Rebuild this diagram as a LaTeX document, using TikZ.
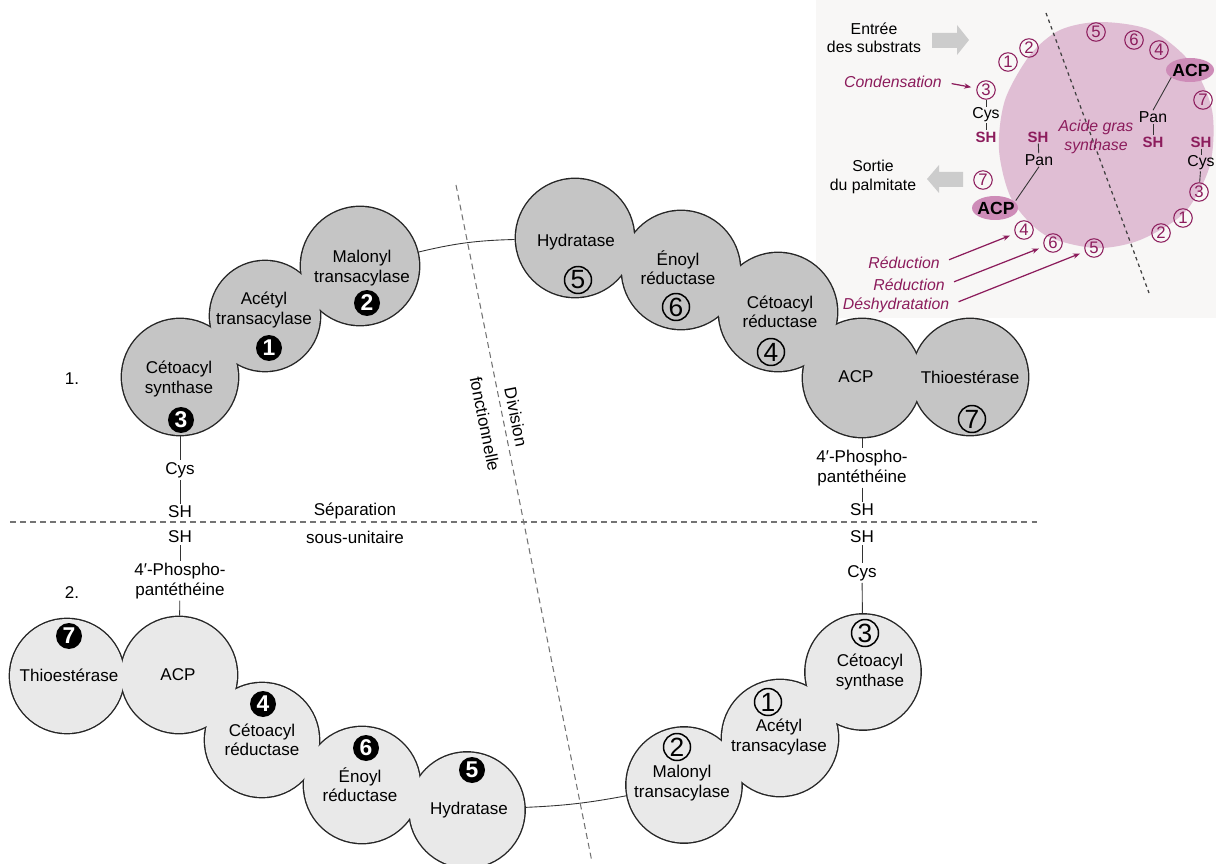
\documentclass[tikz,border=0pt]{standalone}
\usepackage{fontspec}
\setmainfont{Liberation Sans}
\usetikzlibrary{arrows.meta}

\definecolor{enzdark}{RGB}{197,197,197}
\definecolor{enzlight}{RGB}{233,233,233}
\definecolor{fasmag}{RGB}{140,28,92}
\definecolor{faspink}{RGB}{224,190,212}
\definecolor{acppink}{RGB}{206,140,184}
\definecolor{insetbg}{RGB}{248,247,246}

\tikzset{
  enzrim/.style={circle, inner sep=0pt, draw=black!85, line width=1.6pt},
  enzbody/.style={circle, inner sep=0pt},
  lbl/.style={font=\fontsize{9.7}{11}\selectfont, align=center, inner sep=1pt},
  opennum/.style={circle, draw, line width=0.85pt, minimum size=0.54cm, inner sep=0pt, font=\fontsize{15}{15}\selectfont},
  fullnum/.style={circle, fill=black, text=white, minimum size=0.52cm, inner sep=0pt, font=\bfseries\fontsize{13}{13}\selectfont},
  link/.style={black!80, line width=0.5pt},
  splitline/.style={black!55, line width=0.6pt, dash pattern=on 3.4pt off 2.3pt},
  fastxt/.style={font=\fontsize{9}{10.5}\selectfont, align=center, inner sep=0.5pt},
  fasred/.style={fastxt, text=fasmag, font=\itshape\fontsize{9}{10.5}\selectfont},
  fasbold/.style={fastxt, text=fasmag, font=\bfseries\fontsize{8.5}{10}\selectfont},
  fasacp/.style={fastxt, font=\bfseries\fontsize{10}{11}\selectfont},
  fasnum/.style={circle, draw=fasmag, text=fasmag, line width=0.6pt, minimum size=0.37cm, inner sep=0pt, font=\fontsize{9.5}{9.5}\selectfont},
  fasarrow/.style={fasmag, line width=0.7pt, -{Stealth[length=4pt, width=3pt]}, shorten <=5pt, shorten >=3pt},
  bigarrow/.style={fill=black!20},
}

\begin{document}
\begin{tikzpicture}[x=0.02cm, y=-0.02cm]
\useasboundingbox (0,0) rectangle (1216,864);

% --- small sketch of the synthase dimer ---
\fill[insetbg] (816,0) rectangle (1216,318);
\fill[faspink] plot[smooth cycle] coordinates {(1100,22) (1150,30) (1190,62) (1212,110)
  (1210,165) (1185,212) (1140,240) (1095,248) (1045,235) (1012,200) (999,150) (1005,100)
  (1030,55) (1060,30)};
\coordinate (fasT) at (1046,13);
\coordinate (fasB) at (1149,293);
\draw[black!75, line width=0.7pt, dash pattern=on 2pt off 2pt] (fasT) -- (fasB);

% substrates in, palmitate out
\fill[bigarrow] (932,33) -- (957,33) -- (957,25) -- (969,40) -- (957,55) -- (957,48) -- (932,48) -- cycle;
\fill[bigarrow] (927,179) -- (939,165) -- (939,172) -- (963,172) -- (963,187) -- (939,187) -- (939,193) -- cycle;
\node[fastxt] (entree) at (874,38) {Entrée\\des substrats};
\node[fastxt] (sortie) at (873,177) {Sortie\\du palmitate};

\fill[acppink] (1190,70) ellipse (24 and 12);
\fill[acppink] (995,208) ellipse (23 and 12);
\node[fasacp] (acpA) at (1191,70) {ACP};
\node[fasacp] (acpB) at (996,208) {ACP};

\foreach \n/\x/\y/\t in {f1a/1008/62/1, f2a/1029/48/2, f5a/1096/32/5, f6a/1134/40/6,
    f4a/1159/50/4, f3a/986/90/3, f7a/1203/100/7, f3b/1199/192/3, f1b/1183/218/1,
    f2b/1161/233/2, f7b/983/180/7, f4b/1024/230/4, f6b/1053/243/6, f5b/1094/248/5}
  \node[fasnum] (\n) at (\x,\y) {\t};

\node[fastxt] (cysL) at (986,115) {Cys};
\node[fasbold] (shL) at (986,137) {SH};
\draw[link] (f3a) -- (cysL);
\draw[link] (cysL) -- (shL);

\node[fasbold] (shM) at (1038,137) {SH};
\node[fastxt] (panM) at (1039,160) {Pan};
\draw[link] (shM) -- (panM);
\draw[link] (panM.south) -- (acpB.north east);

\node[fastxt] (panN) at (1153,117) {Pan};
\node[fasbold] (shN) at (1153,142) {SH};
\draw[link] (acpA.south west) -- (panN.north);
\draw[link] (panN) -- (shN);

\node[fasbold] (shR) at (1201,142) {SH};
\node[fastxt] (cysR) at (1201,163) {Cys};
\draw[link] (shR) -- (cysR);
\draw[link] (cysR) -- (f3b);

\node[fasred] (fasname) at (1096,137) {Acide gras\\synthase};

\node[fasred] (cond) at (893,82) {Condensation};
\node[fasred] (red1) at (904,263) {Réduction};
\node[fasred] (red2) at (909,285) {Réduction};
\node[fasred] (dehyd) at (896,305) {Déshydratation};
\draw[fasarrow] (cond.east) -- (f3a);
\draw[fasarrow] (red1.east) -- (f4b);
\draw[fasarrow] (red2.east) -- (f6b);
\draw[fasarrow] (dehyd.east) -- (f5b);

% --- subunit 1 (upper half): outlines, then fill to merge ---
\foreach \n/\x/\y/\s in {ks1/180/377/2.32, at1/265/316/2.2, mt1/360/266/2.36,
    hy1/575/238/2.36, er1/681/270/2.36, kr1/778/312/2.36, acp1/862/378/2.36, te1/970/377/2.32}
  \node[enzrim, fill=enzdark, minimum size=\s cm] (\n) at (\x,\y) {};
\foreach \n/\s in {ks1/2.32, at1/2.2, mt1/2.36, hy1/2.36, er1/2.36, kr1/2.36, acp1/2.36, te1/2.32}
  \node[enzbody, fill=enzdark, minimum size=\s cm] (\n-in) at (\n) {};

% --- subunit 2 (lower half) ---
\foreach \n/\x/\y/\s in {te2/67/676/2.28, acp2/179/675/2.32, kr2/262/740/2.28, er2/362/785/2.32,
    hy2/467/810/2.3, mt2/684/785/2.3, at2/780/738/2.32, ks2/863/672/2.3}
  \node[enzrim, fill=enzlight, minimum size=\s cm] (\n) at (\x,\y) {};
\foreach \n/\s in {te2/2.28, acp2/2.32, kr2/2.28, er2/2.32, hy2/2.3, mt2/2.3, at2/2.32, ks2/2.3}
  \node[enzbody, fill=enzlight, minimum size=\s cm] (\n-in) at (\n) {};

% enzyme names and step numbers
\node[lbl] (ks1-t) at (179,379) {Cétoacyl\\synthase};
\node[fullnum] (ks1-n) at (181,420) {3};
\node[lbl] (at1-t) at (264,310) {Acétyl\\transacylase};
\node[fullnum] (at1-n) at (269,348) {1};
\node[lbl] (mt1-t) at (362,268) {Malonyl\\transacylase};
\node[fullnum] (mt1-n) at (367,303) {2};

\node[lbl] (hy1-t) at (576,242) {Hydratase};
\node[opennum] (hy1-n) at (578,280) {5};
\node[lbl] (er1-t) at (678,268) {Énoyl\\réductase};
\node[opennum] (er1-n) at (676,307) {6};
\node[lbl] (kr1-t) at (780,312) {Cétoacyl\\réductase};
\node[opennum] (kr1-n) at (771,352) {4};
\node[lbl] (acp1-t) at (856,377) {ACP};
\node[lbl] (te1-t) at (970,377) {Thioestérase};
\node[opennum] (te1-n) at (972,419) {7};

\node[fullnum] (te2-n) at (69,636) {7};
\node[lbl] (te2-t) at (69,675) {Thioestérase};
\node[lbl] (acp2-t) at (178,675) {ACP};
\node[fullnum] (kr2-n) at (263,704) {4};
\node[lbl] (kr2-t) at (262,740) {Cétoacyl\\réductase};
\node[fullnum] (er2-n) at (366,748) {6};
\node[lbl] (er2-t) at (360,785) {Énoyl\\réductase};
\node[fullnum] (hy2-n) at (472,770) {5};
\node[lbl] (hy2-t) at (469,810) {Hydratase};

\node[opennum] (ks2-n) at (865,633) {3};
\node[lbl] (ks2-t) at (870,672) {Cétoacyl\\synthase};
\node[opennum] (at2-n) at (768,702) {1};
\node[lbl] (at2-t) at (779,737) {Acétyl\\transacylase};
\node[opennum] (mt2-n) at (677,747) {2};
\node[lbl] (mt2-t) at (682,783) {Malonyl\\transacylase};

% links across the ring
\draw[link] (mt1) to[bend left=6] (hy1);
\draw[link] (hy2) to[bend right=4] (mt2);

% Cys / pantetheine arms
\node[lbl] (cys1) at (180,470) {Cys};
\node[lbl] (sh1) at (180,512) {SH};
\node[lbl] (sh2) at (180,537) {SH};
\node[lbl] (pp2) at (180,581) {4′-Phospho-\\pantéthéine};
\draw[link] (ks1) -- (cys1);
\draw[link] (cys1) -- (sh1);
\draw[link] (sh2) -- (pp2);
\draw[link] (pp2) -- (acp2);

\node[lbl] (pp1) at (862,468) {4′-Phospho-\\pantéthéine};
\node[lbl] (sh3) at (862,510) {SH};
\node[lbl] (sh4) at (862,537) {SH};
\node[lbl] (cys2) at (862,573) {Cys};
\draw[link] (acp1) -- (pp1);
\draw[link] (pp1) -- (sh3);
\draw[link] (sh4) -- (cys2);
\draw[link] (cys2) -- (ks2);

% dividing lines
\coordinate (sepL) at (10,522);
\coordinate (sepR) at (1040,522);
\coordinate (divT) at (456,185);
\coordinate (divB) at (592,862);
\draw[splitline] (sepL) -- (sepR);
\draw[splitline] (divT) -- (divB);

\node[lbl] (sep1) at (355,511) {Séparation};
\node[lbl] (sep2) at (355,537) {sous-unitaire};
\node[lbl, rotate=-78.6] (div1) at (516,417) {Division};
\node[lbl, rotate=-78.6] (div2) at (485,424) {fonctionnelle};

\node[lbl] (one) at (72,379) {1.};
\node[lbl] (two) at (72,593) {2.};
\end{tikzpicture}
\end{document}
